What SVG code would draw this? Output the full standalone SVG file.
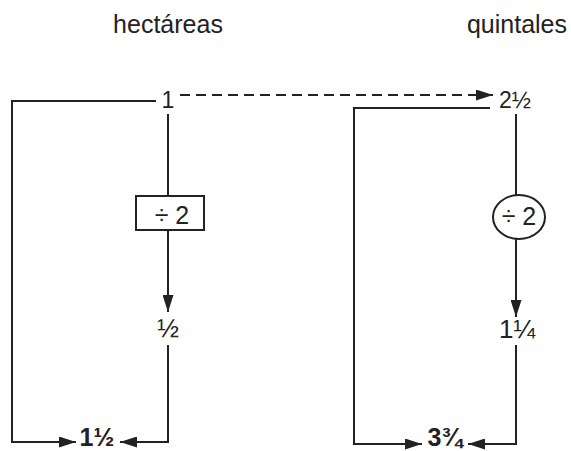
<svg xmlns="http://www.w3.org/2000/svg" width="571" height="451" viewBox="0 0 571 451">
<style>
.t{font-family:"Liberation Sans",Arial,sans-serif;fill:#222;text-anchor:middle}
.h{font-size:25px}
.n{font-size:23px}
.d{font-size:25px}
.f{font-size:26px}
.b{font-size:25px;font-weight:bold}
.ln{fill:none;stroke:#222;stroke-width:2}
.sh{fill:#fff;stroke:#222;stroke-width:2}
</style>
<defs>
<marker id="ah" viewBox="0 0 17 11" refX="17" refY="5.5" markerWidth="17" markerHeight="11" orient="auto" markerUnits="userSpaceOnUse">
<path d="M0,0 L17,5.5 L0,11 z" fill="#222"/>
</marker>
</defs>
<rect width="571" height="451" fill="#fff"/>
<g id="headers">
<text class="t h" x="168" y="33">hectáreas</text>
<text class="t h" x="517" y="33">quintales</text>
</g>
<g id="connectors">
<path class="ln" d="M156,101 H12 V442 H76" marker-end="url(#ah)"/>
<path class="ln" d="M168,114 V196"/>
<path class="ln" d="M168,230 V312" marker-end="url(#ah)"/>
<path class="ln" d="M168,345 V442 H120" marker-end="url(#ah)"/>
<path class="ln" d="M180,95 H493" stroke-dasharray="10,6" marker-end="url(#ah)"/>
<path class="ln" d="M490,108 H354 V444 H422" marker-end="url(#ah)"/>
<path class="ln" d="M516,114 V195"/>
<path class="ln" d="M516,239 V317" marker-end="url(#ah)"/>
<path class="ln" d="M516,345 V444 H468" marker-end="url(#ah)"/>
</g>
<g id="n-1"><text class="t n" x="168" y="108">1</text></g>
<g id="n-div-left"><rect class="sh" x="136" y="196" width="68" height="34"/><text class="t d" x="172" y="224">÷ 2</text></g>
<g id="n-half"><text class="t f" x="168" y="337">½</text></g>
<g id="n-1half"><text class="t b" x="97" y="446">1½</text></g>
<g id="n-2half"><text class="t n" x="515" y="108">2½</text></g>
<g id="n-div-right"><ellipse class="sh" cx="519" cy="217" rx="26" ry="22"/><text class="t d" x="519" y="225">÷ 2</text></g>
<g id="n-1quarter"><text class="t f" x="517" y="338">1¼</text></g>
<g id="n-3quarter"><text class="t b" x="445" y="446">3¾</text></g>
</svg>
